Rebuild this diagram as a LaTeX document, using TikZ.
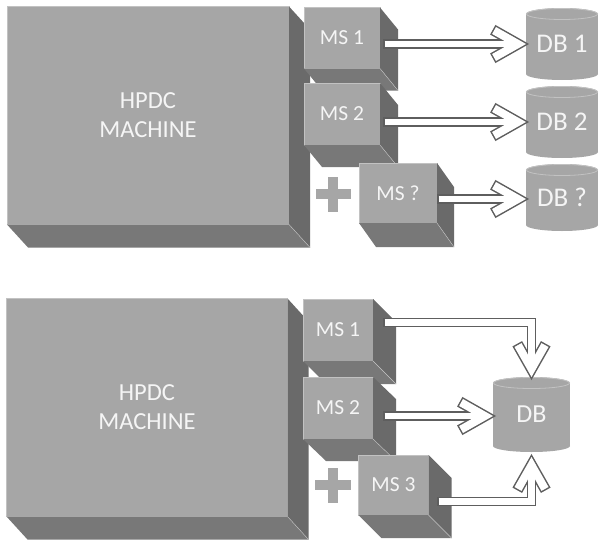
\documentclass[tikz,border=0pt]{standalone}
\usepackage{fontspec}
\setmainfont{Carlito}
\usepackage{xcolor}
\usetikzlibrary{calc}

\definecolor{facegray}{HTML}{A6A6A6}
\definecolor{sidegray}{HTML}{6A6A6A}
\definecolor{basegray}{HTML}{787878}
\definecolor{rimgray}{HTML}{C2C2C2}
\definecolor{edgegray}{HTML}{5E5E5E}
\definecolor{labelwhite}{HTML}{F5F5F5}

\tikzset{
  front/.style={fill=facegray, draw=rimgray, line width=0.5pt, inner sep=0pt,
                outer sep=0pt, text=labelwhite, align=center},
  hpdcbox/.style={front, font=\fontsize{24.5}{29}\selectfont},
  msbox/.style={front, font=\fontsize{21.5}{25}\selectfont},
  sideface/.style={fill=sidegray},
  baseface/.style={fill=basegray},
  dbbody/.style={fill=facegray},
  dbrim/.style={draw=rimgray, line width=0.8pt},
  dblabel/.style={inner sep=0pt, outer sep=0pt, text=labelwhite},
  arrowedge/.style={draw=edgegray, fill=edgegray, line join=miter},
  arrowfill/.style={draw=white, fill=white, line join=miter}
}

% right and bottom faces of a box whose front face is node #1
\newcommand{\extrude}[3]{%
  \fill[sideface] (#1.north east) -- ++(#2,#3) -- ($(#1.south east)+(#2,#3)$) -- (#1.south east) -- cycle;
  \fill[baseface] (#1.south west) -- (#1.south east) -- ++(#2,#3) -- ($(#1.south west)+(#2,#3)$) -- cycle;
  \draw[rimgray, line width=0.4pt] (#1.south east) -- ++(#2,#3);
}

% cylinder: name, centre x, centre y, width, height, label, font size
\newcommand{\dbcyl}[7]{%
  \fill[dbbody] ({#2-#4/2},{#3-#5/2+6}) rectangle ({#2+#4/2},{#3+#5/2-6});
  \fill[dbbody] (#2,{#3+#5/2-6}) ellipse [x radius=#4/2, y radius=6];
  \fill[dbbody] (#2,{#3-#5/2+6}) ellipse [x radius=#4/2, y radius=6];
  \draw[dbrim] (#2,{#3-#5/2+6}) ellipse [x radius=#4/2-0.5, y radius=5.5];
  \node[dblabel, minimum width=#4pt, minimum height=#5pt,
        font=\fontsize{#7}{#7}\selectfont] (#1) at (#2,#3) {#6};
}

% hollow block arrow: shaft path, tip, direction
\newcommand{\flowarrow}[3]{%
  \draw[arrowedge, fill=none, line width=9.6pt, shorten >=16pt] #1;
  \filldraw[arrowedge, line width=3pt, shift={(#2)}, rotate=#3]
    (0,0) -- (-30,-17) -- (-33.9,-10) -- (-16,0) -- (-33.9,10) -- (-30,17) -- cycle;
  \draw[arrowfill, fill=none, line width=6.6pt, shorten >=16pt, shorten <=1.5pt] #1;
  \fill[white, shift={(#2)}, rotate=#3]
    (0,0) -- (-30,-17) -- (-33.9,-10) -- (-16,0) -- (-33.9,10) -- (-30,17) -- cycle;
}

\begin{document}
\begin{tikzpicture}[x=1pt, y=-1pt]
  \useasboundingbox (0,0) rectangle (599,543);

  % ---- top: one database per microservice ----
  \node[hpdcbox, minimum width=282pt, minimum height=218pt] (hpdcA) at (148,115.5) {HPDC\\MACHINE};
  \extrude{hpdcA}{21}{23}

  \node[msbox, minimum width=76pt, minimum height=61pt] (msA1) at (342,38) {MS 1};
  \extrude{msA1}{18}{22}
  \node[msbox, minimum width=76pt, minimum height=62pt] (msA2) at (342,114) {MS 2};
  \extrude{msA2}{18}{22}
  \node[msbox, minimum width=78pt, minimum height=60pt] (msA3) at (398,193) {MS ?};
  \extrude{msA3}{17}{24}

  \fill[facegray] (315.5,189) rectangle (350.5,199);
  \fill[facegray] (328,176.5) rectangle (338,211.5);

  \dbcyl{dbA1}{562}{44}{72}{72}{DB 1}{27}
  \dbcyl{dbA2}{562}{122}{72}{72}{DB 2}{27}
  \dbcyl{dbA3}{562}{197.5}{72}{67}{DB ?}{27}

  \coordinate (outA1) at (383,44);
  \coordinate (outA2) at (383,122);
  \coordinate (outA3) at (437,199);
  \flowarrow{(outA1) -- (outA1 -| dbA1.west)}{outA1 -| dbA1.west}{0}
  \flowarrow{(outA2) -- (outA2 -| dbA2.west)}{outA2 -| dbA2.west}{0}
  \flowarrow{(outA3) -- (outA3 -| dbA3.west)}{outA3 -| dbA3.west}{0}

  % ---- bottom: one shared database ----
  \node[hpdcbox, minimum width=281pt, minimum height=218pt] (hpdcB) at (147,407.5) {HPDC\\MACHINE};
  \extrude{hpdcB}{21}{23}

  \node[msbox, minimum width=70pt, minimum height=62pt] (msB1) at (338,330) {MS 1};
  \extrude{msB1}{23}{23}
  \node[msbox, minimum width=70pt, minimum height=62pt] (msB2) at (338,408) {MS 2};
  \extrude{msB2}{23}{22}
  \node[msbox, minimum width=70pt, minimum height=60pt] (msB3) at (393.5,485) {MS 3};
  \extrude{msB3}{23}{23}

  \fill[facegray] (315,480) rectangle (351,490);
  \fill[facegray] (328,467.5) rectangle (338,503);

  \dbcyl{dbB}{531.5}{414.5}{77}{75}{DB}{26}
  \coordinate (dbfoot) at ($(dbB.south)+(0,5)$);

  \coordinate (outB1) at (383,322.5);
  \coordinate (outB2) at (383,416);
  \coordinate (outB3) at (437,501.5);
  \flowarrow{(outB1) -| (dbB.north)}{dbB.north}{-90}
  \flowarrow{(outB2) -- (outB2 -| dbB.west)}{outB2 -| dbB.west}{0}
  \flowarrow{(outB3) -| (dbfoot)}{dbfoot}{90}
\end{tikzpicture}
\end{document}
